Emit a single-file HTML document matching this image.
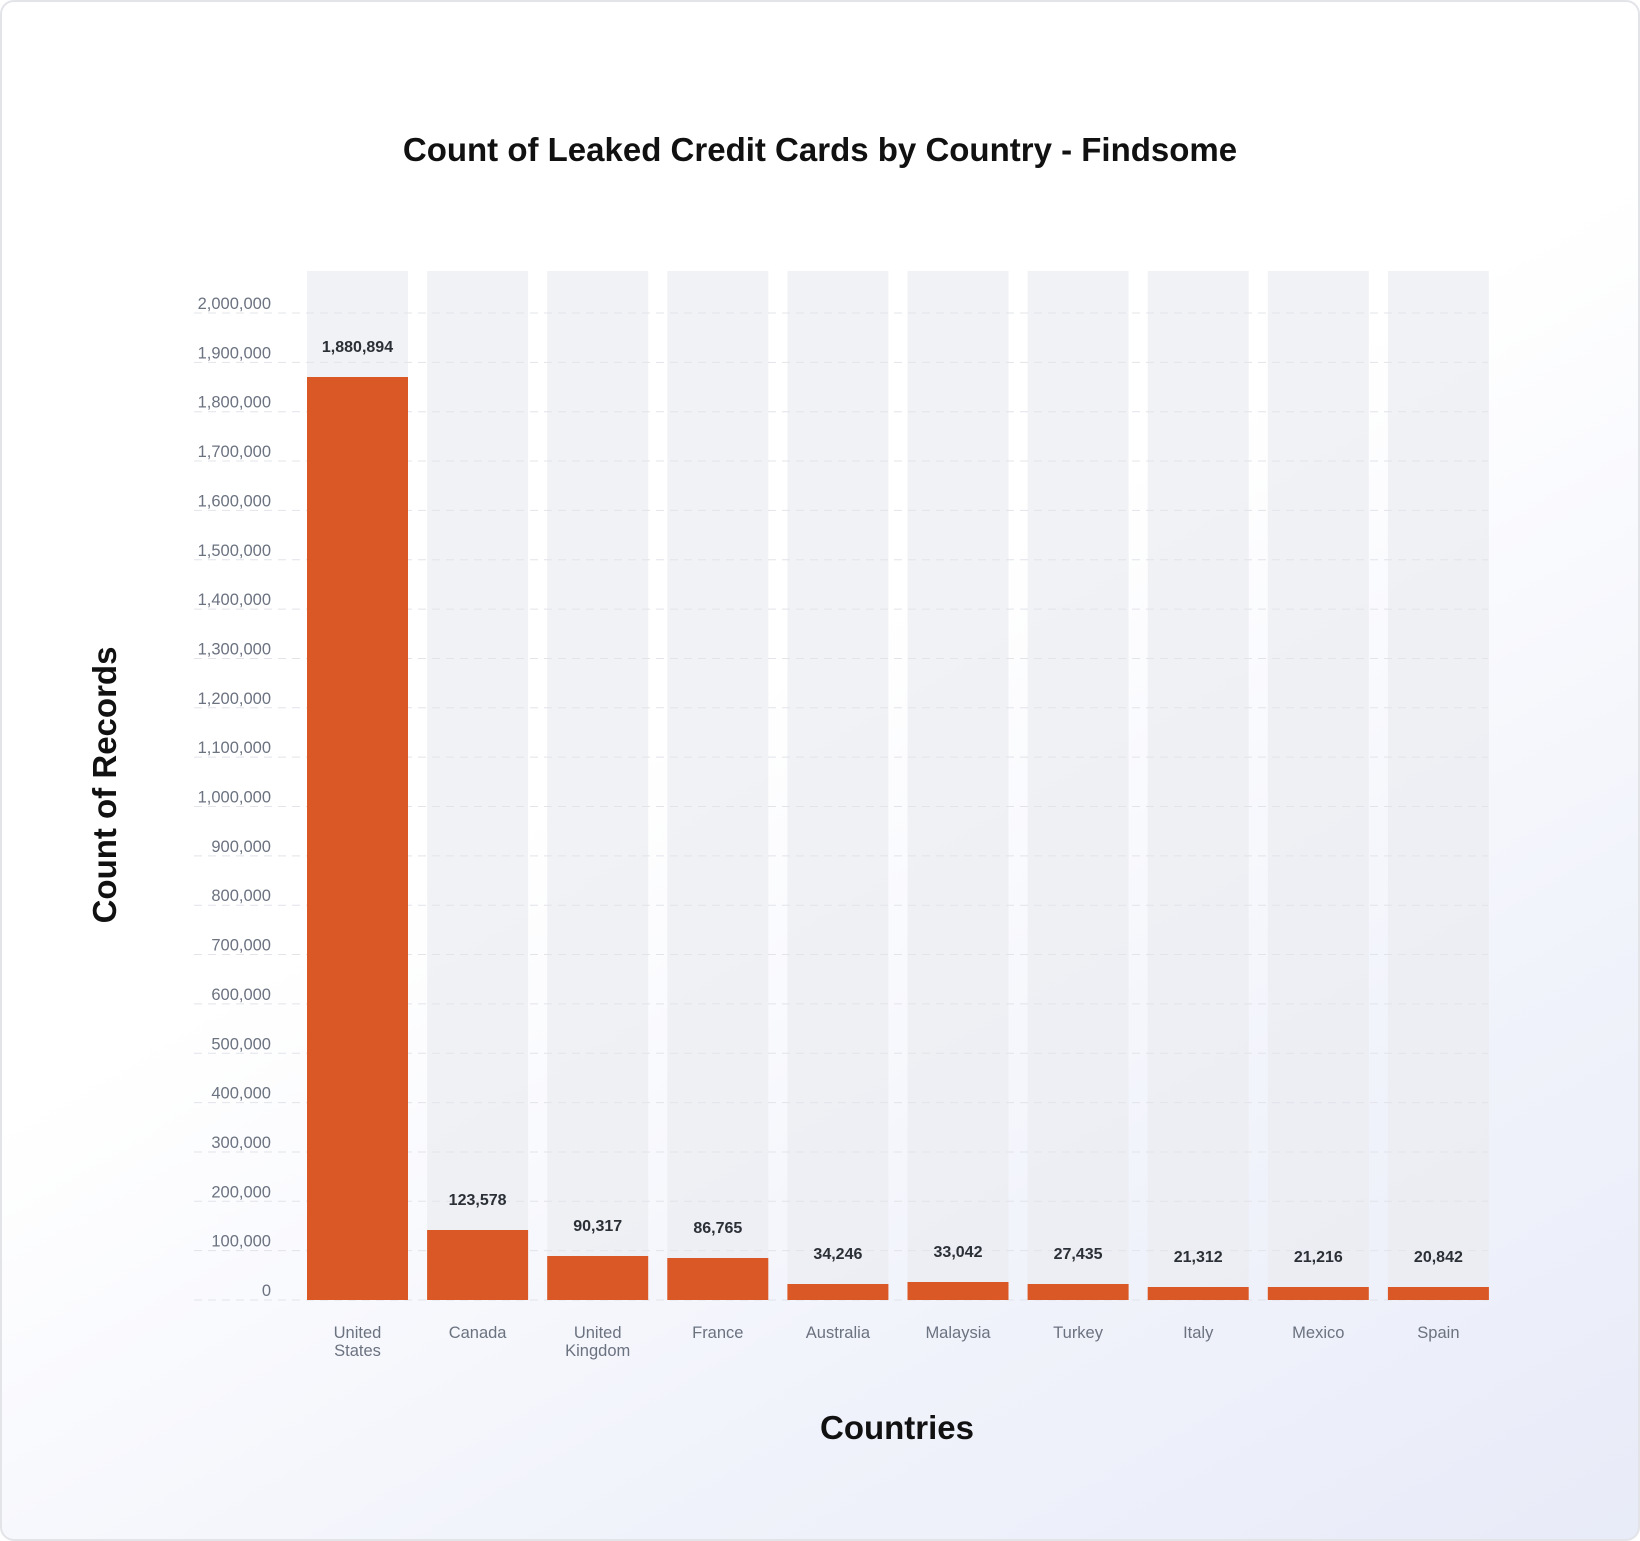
<!DOCTYPE html>
<html><head><meta charset="utf-8"><style>
html,body{margin:0;padding:0;}
body{width:1640px;height:1541px;overflow:hidden;font-family:"Liberation Sans",sans-serif;}
.card{position:absolute;left:0;top:0;width:1636px;height:1537px;border:2px solid #e3e4e8;border-radius:14px;background:linear-gradient(150deg,#ffffff 0%,#ffffff 45%,#f1f3fb 75%,#e8ebf8 100%);}
</style></head><body><div class="card"></div>
<svg width="1640" height="1541" style="position:absolute;left:0;top:0" font-family="Liberation Sans, sans-serif">
<text x="820" y="161" text-anchor="middle" font-size="33" font-weight="bold" fill="#111">Count of Leaked Credit Cards by Country - Findsome</text>
<g id="tracks" fill="#e9ebf0" fill-opacity="0.65"></g>
<g id="grid" stroke="#e2e4ea" stroke-dasharray="8,6" stroke-width="1"></g>
<g id="ticks" font-size="16.5" fill="#6b7280" text-anchor="end"></g>
<g id="bars" fill="#da5826"></g>
<g id="vals" font-size="16" font-weight="bold" fill="#2b2f36" text-anchor="middle"></g>
<g id="cats" font-size="16.5" fill="#6b7280" text-anchor="middle"></g>
<text transform="translate(116,785) rotate(-90)" text-anchor="middle" font-size="33" font-weight="bold" fill="#111">Count of Records</text>
<text x="897" y="1439" text-anchor="middle" font-size="33" font-weight="bold" fill="#111">Countries</text>
</svg>
<script>
const ns="http://www.w3.org/2000/svg";
function el(p,t,a,txt){const e=document.createElementNS(ns,t);for(const k in a)e.setAttribute(k,a[k]);if(txt!==undefined)e.textContent=txt;document.getElementById(p).appendChild(e);return e;}
const zero=1300,per=49.35;
for(let i=0;i<=20;i++){const y=zero-i*per;el('grid','line',{x1:194,x2:1488,y1:y,y2:y});el('ticks','text',{x:271,y:y-4},(i*100000).toLocaleString('en-US'));}
const data=[["1,880,894",377,["United","States"]],["123,578",1230,["Canada"]],["90,317",1256,["United","Kingdom"]],["86,765",1258,["France"]],["34,246",1284,["Australia"]],["33,042",1282,["Malaysia"]],["27,435",1284,["Turkey"]],["21,312",1287,["Italy"]],["21,216",1287,["Mexico"]],["20,842",1287,["Spain"]]];
data.forEach((d,i)=>{const x=307+i*120.1,w=101,c=x+w/2;
el('tracks','rect',{x:x,y:271,width:w,height:zero-271});
el('bars','rect',{x:x,y:d[1],width:w,height:zero-d[1]});
el('vals','text',{x:c,y:d[1]-25},d[0]);
d[2].forEach((l,j)=>el('cats','text',{x:c,y:1338+j*18},l));});
</script>
</body></html>
